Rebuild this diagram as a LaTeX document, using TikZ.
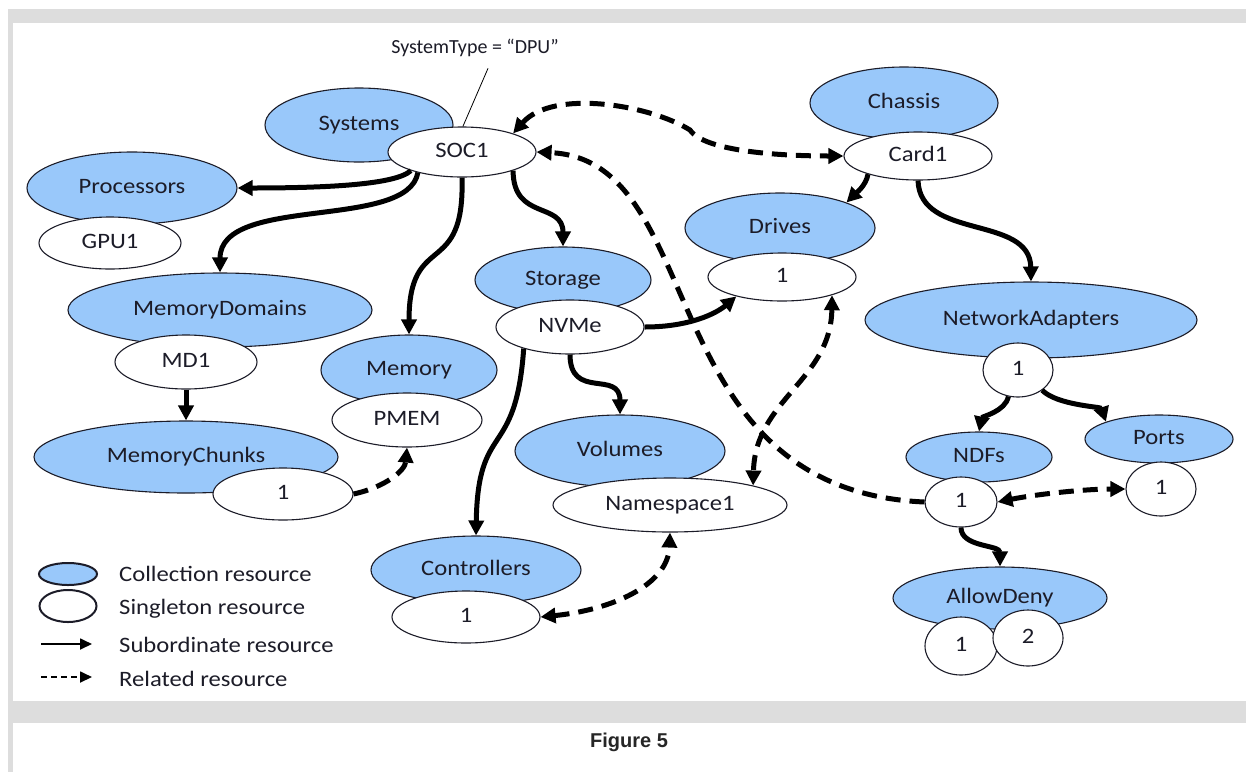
\documentclass[tikz,border=0pt]{standalone}
\usepackage{fontspec}
\setmainfont{Carlito}[FakeStretch=1.12]
\newfontfamily\labelfont{Carlito}
\newfontfamily\capfont{Liberation Sans}
\usetikzlibrary{shapes.geometric,arrows.meta}

\definecolor{collblue}{RGB}{153,200,250}
\definecolor{framegray}{RGB}{221,221,221}
\definecolor{ink}{RGB}{28,28,40}

\begin{document}
\begin{tikzpicture}[x=1pt,y=-1pt,font=\fontsize{22}{26}\selectfont,
  >={Triangle[length=15pt,width=15pt]},
  coll/.style={ellipse,draw=ink,line width=1.1pt,fill=collblue,inner sep=0pt,text=ink,
               text height=1.08em,text depth=0em},
  single/.style={ellipse,draw=ink,line width=1.1pt,fill=white,inner sep=0pt,text=ink,
               text height=1.08em,text depth=0em},
  sz/.style 2 args={minimum width=#1pt,minimum height=#2pt},
  subord/.style={line width=5pt,->},
  related/.style={line width=5pt,dash pattern=on 15pt off 9pt}]
  \useasboundingbox (0,0) rectangle (1246,772);
  % page frame and caption
  \fill[white]      (0,0)   rectangle (1246,772);
  \fill[framegray]  (8,9)   rectangle (1246,723);
  \fill[white]      (13,23) rectangle (1246,701);
  \fill[framegray]  (8,723) rectangle (13,772);
  \node[font=\capfont\bfseries\fontsize{20}{24}\selectfont,text=black!85] (caption) at (629,742) {Figure 5};

  % Left-hand side part of the Figure
  \node[font=\labelfont\fontsize{20}{24}\selectfont,text=ink] (systype) at (475,48) {SystemType = “DPU”};
  \node[coll,sz={188}{74}]   (Systems)     at (359,125) {Systems};
  \node[single,sz={148}{50}] (SOC)         at (462,152) {SOC1};
  \node[coll,sz={210}{72}]   (Processors)  at (132,188) {Processors};
  \node[single,sz={142}{52}] (GPU)         at (110,243) {GPU1};
  \node[coll,sz={304}{74}]   (MemDomains)  at (220,310) {MemoryDomains};
  \node[single,sz={142}{54}] (MD)          at (186,362) {MD1};
  \node[coll,sz={304}{72}]   (MemChunks)   at (186,457) {MemoryChunks};
  \node[single,sz={140}{52}] (Chunk)       at (283,494) {1};
  \node[coll,sz={176}{70}]   (Memory)      at (409,370) {Memory};
  \node[single,sz={150}{54}] (PMEM)        at (407,420) {PMEM};
  % middle part
  \node[coll,sz={176}{66}]   (Storage)     at (563,280) {Storage};
  \node[single,sz={148}{54}] (NVMe)        at (570,327) {NVMe};
  \node[coll,sz={210}{72}]   (Volumes)     at (620,451) {Volumes};
  \node[single,sz={234}{54}] (NS)          at (670,505) {Namespace1};
  \node[coll,sz={210}{68}]   (Controllers) at (476,570) {Controllers};
  \node[single,sz={148}{52}] (Ctrl)        at (466,617) {1};
  \node[coll,sz={190}{70}]   (Drives)      at (780,228) {Drives};
  \node[single,sz={148}{48}] (Drive)       at (782,277) {1};
  % right-hand side part
  \node[coll,sz={188}{72}]   (Chassis)     at (904,103) {Chassis};
  \node[single,sz={148}{48}] (Card)        at (918,156) {Card1};
  \node[coll,sz={332}{76}]   (NetAdapters) at (1031,320) {NetworkAdapters};
  \node[single,sz={70}{54}]  (NA)          at (1018,370) {1};
  \node[coll,sz={146}{50}]   (NDFs)        at (979,457) {NDFs};
  \node[single,sz={72}{50}]  (NDF)         at (961,502) {1};
  \node[coll,sz={148}{48}]   (Ports)       at (1159,439) {Ports};
  \node[single,sz={70}{54}]  (Port)        at (1161,489) {1};
  \node[coll,sz={214}{62}]   (AllowDeny)   at (1000,598) {AllowDeny};
  \node[single,sz={72}{58}]  (ADone)       at (961,646) {1};
  \node[single,sz={70}{56}]  (ADtwo)       at (1028,638) {2};

  \draw[line width=0.8pt] (SOC.88) -- ([xshift=13pt,yshift=-8pt]systype.south);

  % subordinate resources
  \draw[subord] (SOC.200) .. controls +(-15,14) and +(90,0) .. (Processors.east);
  \draw[subord] (SOC.205) .. controls +(-10,58) and +(0,-78) .. (MemDomains.north);
  \draw[subord] (SOC.270) .. controls +(3,103) and +(0,-105) .. (Memory.north);
  \draw[subord] (SOC.340) .. controls +(0,50) and +(0,-45) .. (Storage.north);
  \draw[subord] (MD.south) -- (MemChunks.north);
  \draw[subord] (NVMe.east) .. controls +(45,0) and +(-20,17) .. (Drive.203);
  \draw[subord] (NVMe.270) .. controls +(0,46) and +(0,-45) .. (Volumes.north);
  \draw[subord] (NVMe.205) .. controls +(-8,113) and +(2,-116) .. (Controllers.north);
  \draw[subord] (Card.200) .. controls +(-2,12) and +(8,-8) .. (Drives.21);
  \draw[subord] (Card.south) .. controls +(2,60) and +(-1,-67) .. (NetAdapters.north);
  \draw[subord] (NA.250) .. controls +(-3,15) and +(3,-15) .. (NDFs.north);
  \draw[subord] (NA.320) .. controls +(15,15) and +(-5,-15) .. (Ports.162);
  \draw[subord] (NDF.south) .. controls +(0,20) and +(0,-22) .. (AllowDeny.north);

  % related resources
  \coordinate (hump) at (690,130);
  \draw[related,<->] (SOC.20) .. controls +(40,-45) and +(-40,-25) .. (hump)
        .. controls +(15,22) and +(-60,0) .. (Card.west);
  \draw[related,->] (NDF.west) .. controls +(-275,-12) and +(174,8) .. (SOC.0);
  \draw[related,<->] (Drive.340) .. controls +(-1,85) and +(2,-86) .. (NS.north east);
  \draw[related,<->] (Ctrl.east) .. controls +(70,-7) and +(-2,53) .. (NS.south);
  \draw[related,->] (Chunk.east) .. controls +(32,-7) and +(-2,23) .. (PMEM.south);
  \draw[related,<->] (NDF.east) .. controls +(40,-8) and +(-40,0) .. (Port.west);

  % legend
  \node[coll,sz={58}{22},line width=2pt]   (legColl)   at (68,574) {};
  \node[single,sz={57}{32},line width=2pt] (legSingle) at (68,606) {};
  \coordinate (subA) at (41,644);  \coordinate (subB) at (92,644);
  \coordinate (relA) at (41,677);  \coordinate (relB) at (92,677);
  \draw[line width=1.8pt,-{Triangle[length=12pt,width=11pt]}] (subA) -- (subB);
  \draw[line width=1.8pt,dash pattern=on 6pt off 4pt,-{Triangle[length=12pt,width=11pt]}] (relA) -- (relB);
  \node[anchor=west,inner sep=0pt,text=ink] (legCollTxt)   at (119,574) {Collection resource};
  \node[anchor=west,inner sep=0pt,text=ink] (legSingleTxt) at (119,609) {Singleton resource};
  \node[anchor=west,inner sep=0pt,text=ink] (legSubTxt)    at (119,645) {Subordinate resource};
  \node[anchor=west,inner sep=0pt,text=ink] (legRelTxt)    at (119,679) {Related resource};
\end{tikzpicture}
\end{document}
